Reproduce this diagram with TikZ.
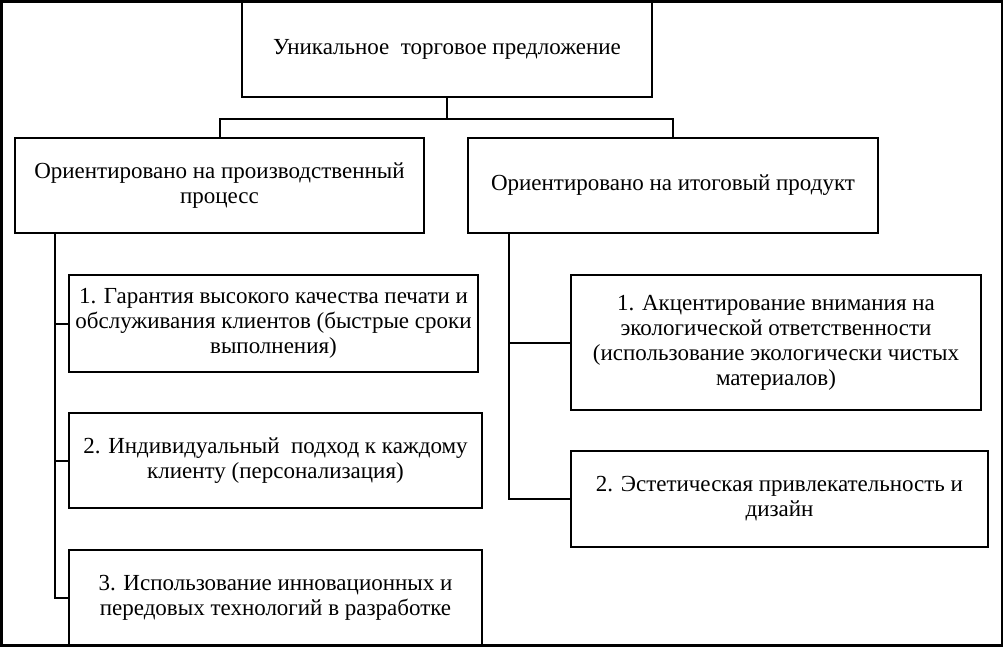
\documentclass[tikz,border=0pt]{standalone}
\usepackage{fontspec}
\setmainfont{Liberation Serif}
\begin{document}
\begin{tikzpicture}[x=1pt,y=-1pt,
  box/.style={draw=black, line width=2.2pt, rectangle, align=center, inner sep=0pt,
    font=\fontsize{23}{25}\selectfont},
  conn/.style={draw=black, line width=2pt}]
\useasboundingbox (0,0) rectangle (1004,647);
\draw[line width=2.6pt] (1.5,1.5) rectangle (1002,645.5);
\node[box, minimum width=410pt, minimum height=96pt] (top) at (447,49) {Уникальное\ \ торговое предложение};
\node[box, minimum width=409pt, minimum height=95pt] (L) at (219.5,185.5) {Ориентировано на производственный\\процесс};
\node[box, minimum width=410pt, minimum height=95pt] (R) at (673,185.5) {Ориентировано на итоговый продукт};
\node[box, minimum width=409pt, minimum height=97pt] (L1) at (273.5,323.5) {1. Гарантия высокого качества печати и\\обслуживания клиентов (быстрые сроки\\выполнения)};
\node[box, minimum width=413pt, minimum height=95pt] (L2) at (275.5,460.5) {2. Индивидуальный\ \ подход к каждому\\клиенту (персонализация)};
\node[box, minimum width=413pt, minimum height=95pt] (L3) at (275.5,597.5) {3. Использование инновационных и\\передовых технологий в разработке};
\node[box, minimum width=410pt, minimum height=135pt] (R1) at (776,342.5) {1. Акцентирование внимания на\\экологической ответственности\\(использование экологически чистых\\материалов)};
\node[box, minimum width=417pt, minimum height=96pt] (R2) at (779.5,499) {2. Эстетическая привлекательность и\\дизайн};
\coordinate (mid) at ([yshift=-21pt]top.south);
\draw[conn] (top.south) -- (mid);
\draw[conn] (mid) -| (L.north);
\draw[conn] (mid) -| (R.north);
\coordinate (Ls) at ([xshift=41pt]L.south west);
\coordinate (Rs) at ([xshift=42pt]R.south west);
\draw[conn] (Ls) |- (L3.west);
\draw[conn] (Ls) |- (L1.west);
\draw[conn] (Ls) |- (L2.west);
\draw[conn] (Rs) |- (R2.west);
\draw[conn] (Rs) |- (R1.west);
\end{tikzpicture}
\end{document}
